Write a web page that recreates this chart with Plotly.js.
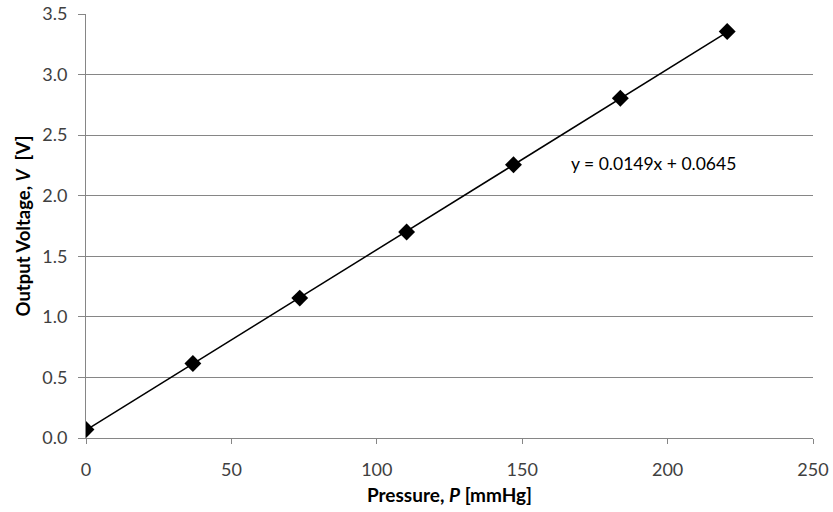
<!DOCTYPE html>
<html>
<head>
<meta charset="utf-8">
<script src="https://cdn.plot.ly/plotly-3.0.1.min.js"></script>
<style>html,body{margin:0;padding:0;background:#fff;}#chart{width:833px;height:512px;}</style>
</head>
<body>
<div id="chart"></div>
<script>
const pressure = [0, 36.75, 73.5, 110.25, 147, 183.75, 220.5];
const voltage = [0.07, 0.615, 1.155, 1.70, 2.255, 2.805, 3.355];
const slope = 0.0149;
const intercept = 0.0645;
const fitX = [0, 220.5];
const fitY = fitX.map(x => slope * x + intercept);
const xTicks = [0, 50, 100, 150, 200, 250];
const yTicks = [0, 0.5, 1.0, 1.5, 2.0, 2.5, 3.0, 3.5];
const yTickText = ['0.0', '0.5', '1.0', '1.5', '2.0', '2.5', '3.0', '3.5'];

const font = 'Lato, "Open Sans", sans-serif';
const tickFont = {family: font, size: 18, color: '#404040'};
const traces = [
  {x: fitX, y: fitY, mode: 'lines', line: {color: '#000', width: 1.5}, hoverinfo: 'skip', showlegend: false},
  {x: pressure, y: voltage, mode: 'markers', marker: {symbol: 'diamond', size: 13, color: '#000'}, showlegend: false}
];
const layout = {
  width: 833, height: 512,
  margin: {l: 86, r: 20, t: 14, b: 74},
  paper_bgcolor: '#fff', plot_bgcolor: '#fff',
  font: {family: font, size: 18, color: '#404040'},
  xaxis: {
    range: [0, 250], tickvals: xTicks, ticktext: xTicks.map(String), tickfont: tickFont,
    showgrid: false, zeroline: false, showline: true, linecolor: '#868686', linewidth: 1,
    ticks: 'outside', ticklen: 5, tickcolor: '#868686', ticklabelstandoff: 10,
    title: {text: '<b>Pressure, <i>P</i> [mmHg]</b>', font: {family: font, size: 19, color: '#000'}, standoff: 10}
  },
  yaxis: {
    range: [0, 3.5], tickvals: yTicks, ticktext: yTickText, tickfont: tickFont,
    showgrid: true, gridcolor: '#868686', gridwidth: 1, zeroline: false,
    showline: true, linecolor: '#868686', linewidth: 1,
    ticks: 'outside', ticklen: 7, tickcolor: '#868686', ticklabelstandoff: 7,
    title: {text: '<b>Output Voltage, <i>V</i>  [V]</b>', font: {family: font, size: 18.5, color: '#000'}, standoff: 6}
  },
  annotations: [{x: 195.3, y: 2.27, xref: 'x', yref: 'y', text: 'y = 0.0149x + 0.0645', showarrow: false,
    font: {family: font, size: 17.5, color: '#000'}}]
};
Plotly.newPlot('chart', traces, layout, {displayModeBar: false, staticPlot: true});
</script>
</body>
</html>
